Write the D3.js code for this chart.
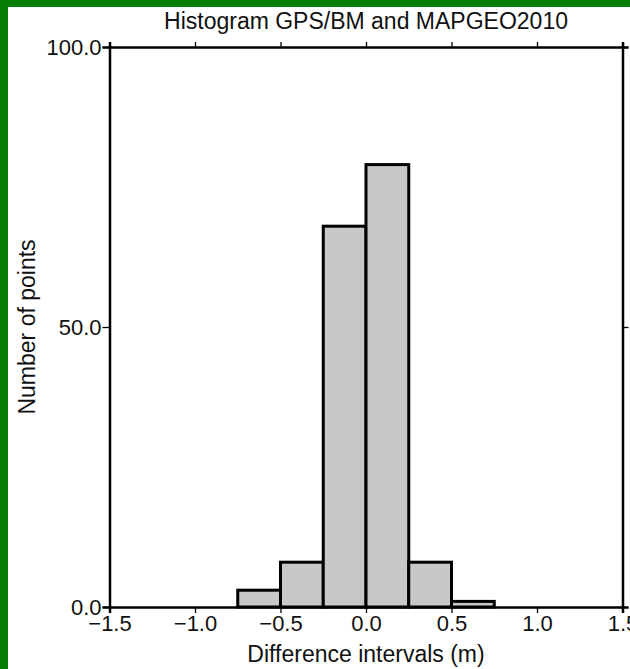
<!DOCTYPE html>
<html lang="en">
  <head>
    <meta charset="UTF-8" />
    <title>Histogram GPS/BM and MAPGEO2010</title>
    <style>
      body { margin: 0; background: #fff; }
      svg { display: block; font-family: "Liberation Sans", Arial, Helvetica, sans-serif; }
      .axis path, .axis line { stroke: #000; }
      .axis text { font-size: 22px; fill: #111; }
      .bar { fill: #c8c8c8; stroke: #000; stroke-width: 3px; }
      .label { font-size: 23px; fill: #111; }
    </style>
  </head>
  <body>
    <div id="wrapper"></div>
    <script src="https://d3js.org/d3.v7.min.js"></script>
    <script>
      // histogram data (bin edges in m, counts)
      const binLow = [-0.75, -0.5, -0.25, 0.0, 0.25, 0.5];
      const binHigh = [-0.5, -0.25, 0.0, 0.25, 0.5, 0.75];
      const counts = [3, 8, 68, 79, 8, 1];
      const xTicks = [-1.5, -1.0, -0.5, 0.0, 0.5, 1.0, 1.5];
      const yTicks = [0, 50, 100];

      var margin = {top: 47, left: 109.5, right: 7.5, bottom: 62},
          fullW = 630, fullH = 669,
          width = fullW - margin.left - margin.right,
          height = fullH - margin.top - margin.bottom;

      var x = d3.scaleLinear().domain([-1.5, 1.5]).range([0, width]);
      var y = d3.scaleLinear().domain([0, 100]).range([height, 0]);
      var fmt = d3.format(".1f");

      var svg = d3.select("#wrapper").append("svg")
          .attr("width", fullW)
          .attr("height", fullH);

      // green frame of the figure
      svg.append("rect").attr("x", 0).attr("y", 0).attr("width", 8).attr("height", fullH).attr("fill", "#077f07");
      svg.append("rect").attr("x", 0).attr("y", 0).attr("width", fullW).attr("height", 7).attr("fill", "#077f07");

      var g = svg.append("g")
          .attr("transform", "translate(" + margin.left + "," + margin.top + ")");

      var bins = counts.map(function(c, i) { return {lo: binLow[i], hi: binHigh[i], n: c}; });

      g.selectAll(".bar")
          .data(bins)
        .enter().append("rect")
          .attr("class", "bar")
          .attr("x", function(d) { return x(d.lo); })
          .attr("y", function(d) { return y(d.n); })
          .attr("width", function(d) { return x(d.hi) - x(d.lo); })
          .attr("height", function(d) { return y(0) - y(d.n); });

      // axes on all four sides
      var axBottom = g.append("g").attr("class", "axis")
          .attr("transform", "translate(0," + height + ")")
          .call(d3.axisBottom(x).tickValues(xTicks).tickFormat(fmt).tickSizeOuter(0).tickSize(6).tickPadding(2));
      var axTop = g.append("g").attr("class", "axis")
          .call(d3.axisTop(x).tickValues(xTicks).tickFormat("").tickSizeOuter(0).tickSize(5));
      var axLeft = g.append("g").attr("class", "axis")
          .call(d3.axisLeft(y).tickValues(yTicks).tickFormat(fmt).tickSizeOuter(0).tickSize(7).tickPadding(1));
      var axRight = g.append("g").attr("class", "axis")
          .attr("transform", "translate(" + width + ",0)")
          .call(d3.axisRight(y).tickValues(yTicks).tickFormat("").tickSizeOuter(0).tickSize(6));

      [axBottom, axTop, axLeft, axRight].forEach(function(a) {
        a.select(".domain").attr("stroke-width", 2.5);
        a.selectAll(".tick line").attr("stroke-width", 1.3);
      });

      // title and axis labels
      svg.append("text")
          .attr("class", "label")
          .attr("x", margin.left + width / 2)
          .attr("y", 29)
          .attr("text-anchor", "middle")
          .text("Histogram GPS/BM and MAPGEO2010");

      svg.append("text")
          .attr("class", "label")
          .attr("x", margin.left + width / 2)
          .attr("y", 662)
          .attr("text-anchor", "middle")
          .text("Difference intervals (m)");

      svg.append("text")
          .attr("class", "label")
          .attr("transform", "translate(35," + (margin.top + height / 2) + ") rotate(-90)")
          .attr("text-anchor", "middle")
          .text("Number of points");
    </script>
  </body>
</html>
